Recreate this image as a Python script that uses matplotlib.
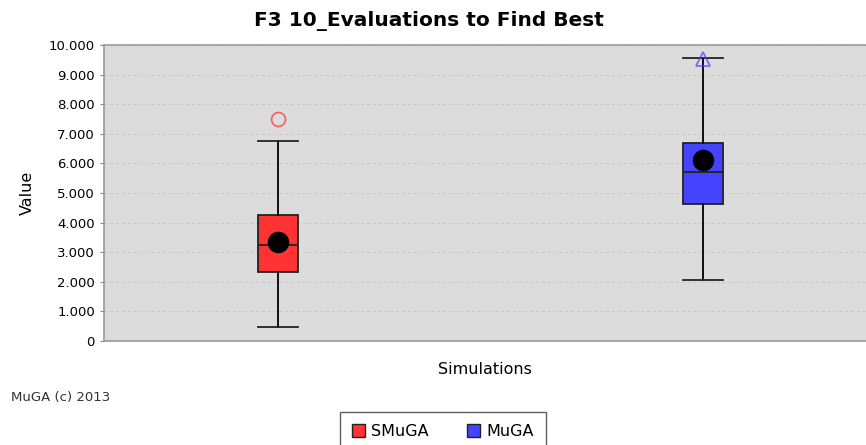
import matplotlib
matplotlib.use("Agg")
import matplotlib.pyplot as plt
from matplotlib.ticker import FuncFormatter, MultipleLocator
from matplotlib.patches import Patch

# box statistics
series = ["SMuGA", "MuGA"]
colors = ["#ff3333", "#4444ff"]
whislo = [470, 2060]
q1 = [2320, 4620]
med = [3230, 5710]
q3 = [4260, 6690]
whishi = [6760, 9560]
means = [3340, 6110]
outliers = [[7500], [9520]]
outlier_markers = ["o", "^"]

plt.rcParams['font.family'] = ['DejaVu Sans']

fig = plt.figure(figsize=(8.66, 4.45), dpi=100)
ax = fig.add_axes([104 / 866, 104 / 445, 762 / 866, 296 / 445])
ax.set_facecolor("#dcdcdc")

stats = []
for i in range(len(series)):
    stats.append(dict(whislo=whislo[i], q1=q1[i], med=med[i], q3=q3[i],
                      whishi=whishi[i], fliers=[]))

bp = ax.bxp(stats, positions=[0, 1], widths=0.094, patch_artist=True,
            showfliers=False,
            whiskerprops=dict(color="black", linewidth=1.3),
            capprops=dict(color="#222222", linewidth=1.3),
            medianprops=dict(color="#222222", linewidth=1.3),
            boxprops=dict(edgecolor="#222222", linewidth=1.3),
            capwidths=0.094)
for patch, c in zip(bp["boxes"], colors):
    patch.set_facecolor(c)

for i in range(len(series)):
    ax.plot([i] * len(outliers[i]), outliers[i], linestyle="none",
            marker=outlier_markers[i], markersize=10, markerfacecolor="none",
            markeredgecolor=colors[i], markeredgewidth=1.3, alpha=0.7, zorder=4)
    ax.plot(i, means[i], marker="o", color="black", markersize=14.5, zorder=5)

ax.set_xlim(-0.409, 1.384)
ax.set_ylim(0, 10000)
ax.yaxis.set_major_locator(MultipleLocator(1000))
ax.yaxis.set_major_formatter(FuncFormatter(lambda v, p: f"{int(v):,}".replace(",", ".")))
ax.tick_params(axis="y", labelsize=9.5, length=3, color="#888888")
ax.set_xticks([])
ax.grid(axis="y", color="#c6c6c6", linestyle=(0, (3, 3)), linewidth=0.7)
ax.set_axisbelow(True)
ax.spines["right"].set_visible(False)
for s in ["left", "bottom", "top"]:
    ax.spines[s].set_color("#999999")
    ax.spines[s].set_linewidth(1.2)

ax.set_ylabel("Value", fontsize=11.5, labelpad=10)
ax.set_xlabel("Simulations", fontsize=11.5, labelpad=15)
fig.text(429 / 866, 1 - 21 / 445, "F3 10_Evaluations to Find Best", ha="center", va="center",
         fontsize=14.5, fontweight="bold")
fig.text(11 / 866, 1 - 398 / 445, "MuGA (c) 2013", ha="left", va="center",
         fontsize=9.5, color="#333333")

handles = [Patch(facecolor=c, edgecolor="#222222", label=s) for s, c in zip(series, colors)]
fig.legend(handles=handles, loc="upper center", bbox_to_anchor=(443 / 866, 1 - 412 / 445),
           ncol=2, frameon=True, fancybox=False, edgecolor="#333333",
           fontsize=11.5, handlelength=0.8, handleheight=0.8, handletextpad=0.4,
           columnspacing=2.4, borderpad=0.75, borderaxespad=0)

fig.savefig("out.png", dpi=100)
